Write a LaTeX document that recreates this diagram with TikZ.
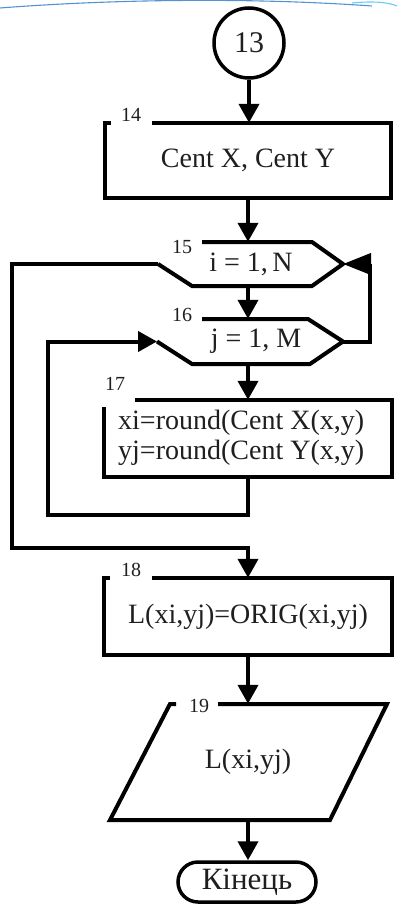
\documentclass[tikz,border=0pt]{standalone}
\usepackage{fontspec}
\setmainfont{Liberation Serif}
\usetikzlibrary{arrows.meta,calc}
\begin{document}
\begin{tikzpicture}[x=1pt,y=-1pt,
  outline/.style={line width=4pt, line join=miter},
  flow/.style={line width=4pt, -{Triangle[width=20pt,length=19pt]}},
  bigflow/.style={line width=4pt, -{Triangle[width=21pt,length=28pt]}},
  txt/.style={font=\fontsize{28}{30}\selectfont, text=black!88, inner sep=0pt},
  lbl/.style={font=\fontsize{20}{22}\selectfont, text=black!88, inner sep=0pt},
  deco/.style={line width=1.1pt, draw=cyan!55!blue!70}]
\useasboundingbox (0,0) rectangle (397,904);

% page decoration along the top edge
\draw[deco] (0,8) .. controls (90,1) and (230,-4) .. (372,6);
\draw[deco, draw=cyan!60] (352,3) .. controls (372,1) and (388,2) .. (397,6);

% 13: connector circle
\node[circle, draw, line width=3.5pt, minimum size=70pt, txt, font=\fontsize{30}{32}\selectfont] (c13) at (249,43) {13};

% 14: process block
\node[txt, minimum width=286pt, minimum height=75pt] (b14) at (248,160.5) {Cent X, Cent Y};
\draw[outline] ([xshift=6pt]b14.north west) -- (b14.north west) -- (b14.south west)
  -- (b14.south east) -- (b14.north east) -- ([xshift=47pt]b14.north west);
\node[lbl] (n14) at (131,115) {14};

% 15: outer loop header
\node[txt, minimum width=110pt, minimum height=44pt] (h15) at (251,264) {i = 1,\,N};
\coordinate (h15w) at (158,264);
\coordinate (h15e) at (343,264);
\draw[outline] (202,242) -- (312,242) -- (h15e) -- (312,286) -- (192,286) -- (h15w);
\node[lbl] (n15) at (182,247) {15};

% 16: inner loop header
\node[txt, minimum width=110pt, minimum height=45pt] (h16) at (256,341.5) {j = 1, M};
\coordinate (h16w) at (157,341.5);
\coordinate (h16e) at (343,341.5);
\draw[outline] (202,319) -- (308,319) -- (h16e) -- (310,364) -- (192,364) -- (h16w);
\node[lbl] (n16) at (182,315) {16};

% 17: loop body
\node[minimum width=287pt, minimum height=77pt, inner sep=0pt] (b17) at (248,438.5) {};
\node[txt, anchor=west, align=left] (t17) at (118,438) {xi=round(Cent X(x,y)\\yj=round(Cent Y(x,y)};
\draw[outline] ([yshift=-7pt]b17.north west) -- (b17.south west) -- (b17.south east)
  -- (b17.north east) -- ([xshift=31pt]b17.north west);
\node[lbl] (n17) at (115,384) {17};

% 18: process block
\node[txt, minimum width=287pt, minimum height=77pt] (b18) at (248,616.5) {L(xi,yj)=ORIG(xi,yj)};
\draw[outline] ([xshift=6pt]b18.north west) -- (b18.north west) -- (b18.south west)
  -- (b18.south east) -- (b18.north east) -- ([xshift=48pt]b18.north west);
\node[lbl] (n18) at (131,570) {18};

% 19: output block
\node[txt, minimum width=150pt, minimum height=116pt] (p19) at (248,762) {L(xi,yj)};
\draw[outline] (176,704) -- (170,704) -- (110,820) -- (330,820) -- (387,704) -- (218,704);
\node[lbl] (n19) at (199,706) {19};

% terminator
\node[txt, font=\fontsize{31}{33}\selectfont, draw, line width=3.5pt, rounded corners=20pt,
      minimum width=138pt, minimum height=40pt] (end) at (247,882) {Кінець};

% main flow
\draw[flow] (c13) -- (c13 |- b14.north);
\draw[flow] (b14.south) -- (b14.south |- h15.north);
\draw[flow] (h15.south -| b14.south) -- (h16.north -| b14.south);
\draw[flow] (h16.south -| b14.south) -- (b17.north);
\draw[flow] (b18.south) -- (p19.north);
\draw[flow] (p19.south) -- (p19.south |- end.north);

% inner loop return
\coordinate (i1) at (48,515);
\draw[flow] (b17.south) |- (i1) |- (h16w);

% inner loop exit back to the outer header
\coordinate (r1) at (370,264);
\draw[bigflow] (h16e) -| (r1) -- (h15e);

% outer loop exit
\coordinate (o1) at (12,548);
\draw[flow] (h15w) -| (o1) -| (b18.north);
\end{tikzpicture}
\end{document}
